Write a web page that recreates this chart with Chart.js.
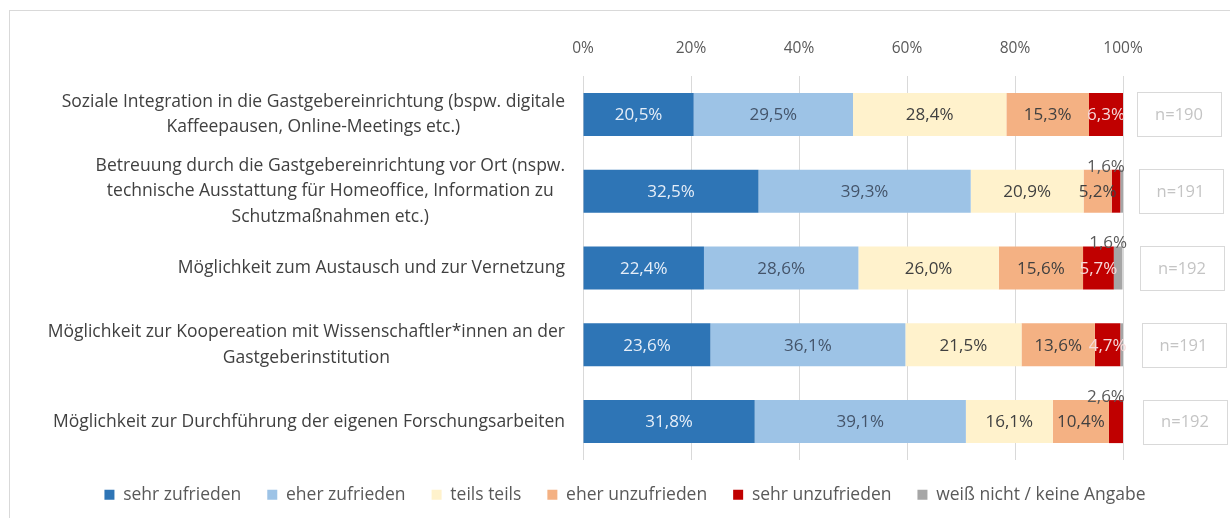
<!DOCTYPE html>
<html>
<head>
<meta charset="utf-8">
<script src="https://cdn.jsdelivr.net/npm/chart.js@4.4.0/dist/chart.umd.min.js"></script>
<style>
  body{margin:0;background:#fff;}
  #wrap{position:absolute;left:9px;top:10px;width:1221px;height:508px;border-top:1px solid #d9d9d9;border-left:1px solid #d9d9d9;}
  canvas{display:block;}
</style>
</head>
<body>
<div id="wrap"><canvas id="myChart" width="1220" height="507"></canvas></div>
<script>
var categories=[
  ["Soziale Integration in die Gastgebereinrichtung (bspw. digitale","Kaffeepausen, Online-Meetings etc.)"],
  ["Betreuung durch die Gastgebereinrichtung vor Ort (nspw.","technische Ausstattung für Homeoffice, Information zu","Schutzmaßnahmen etc.)"],
  ["Möglichkeit zum Austausch und zur Vernetzung"],
  ["Möglichkeit zur Koopereation mit Wissenschaftler*innen an der","Gastgeberinstitution"],
  ["Möglichkeit zur Durchführung der eigenen Forschungsarbeiten"]
];
var seriesNames=["sehr zufrieden","eher zufrieden","teils teils","eher unzufrieden","sehr unzufrieden","weiß nicht / keine Angabe"];
var sehrZufrieden=[20.5,32.5,22.4,23.6,31.8];
var eherZufrieden=[29.5,39.3,28.6,36.1,39.1];
var teilsTeils=[28.4,20.9,26.0,21.5,16.1];
var eherUnzufrieden=[15.3,5.2,15.6,13.6,10.4];
var sehrUnzufrieden=[6.3,1.6,5.7,4.7,2.6];
var weissNicht=[0,0.5,1.6,0.5,0];
var nValues=[190,191,192,191,192];
var tickValues=[0,20,40,60,80,100];

var barColors=["#2E75B6","#9DC3E6","#FFF2CC","#F4B183","#C00000","#A6A6A6"];
var labelColors=["#e6eef8","#44546a","#404040","#404040","#f6dada","#404040"];
var FONT='"Open Sans", sans-serif';

function fmt(v){ return v.toFixed(1).replace('.',',')+'%'; }

var allSeries=[sehrZufrieden,eherZufrieden,teilsTeils,eherUnzufrieden,sehrUnzufrieden,weissNicht];
var datasets=[];
for(let i=0;i<allSeries.length;i++){
  datasets.push({
    label:seriesNames[i],
    data:allSeries[i],
    backgroundColor:barColors[i],
    borderWidth:0,
    barPercentage:0.56,
    categoryPercentage:1
  });
}

// value labels inside the segments (small ones sit on top of the bar)
const valueLabels={
  id:'valueLabels',
  afterDatasetsDraw(chart){
    const ctx=chart.ctx;
    ctx.save();
    ctx.font='17px '+FONT;
    ctx.textAlign='center';
    ctx.textBaseline='middle';
    chart.data.datasets.forEach(function(ds,i){
      chart.getDatasetMeta(i).data.forEach(function(bar,j){
        const v=ds.data[j];
        if(v<1) return;
        const cx=(bar.x+bar.base)/2;
        if(v<3){
          ctx.fillStyle='#595959';
          ctx.fillText(fmt(v),cx-10,bar.y-bar.height/2-3);
        }else{
          ctx.fillStyle=labelColors[i];
          ctx.fillText(fmt(v),cx,bar.y+1);
        }
      });
    });
    ctx.restore();
  }
};

// category labels: block right aligned, lines centred (like Excel)
const catLabels={
  id:'catLabels',
  afterDraw(chart){
    const ctx=chart.ctx, y=chart.scales.y;
    const right=chart.chartArea.left-18;
    const lh=25.5;
    ctx.save();
    ctx.font='17.5px '+FONT;
    ctx.fillStyle='#404040';
    ctx.textAlign='center';
    ctx.textBaseline='middle';
    categories.forEach(function(lines,j){
      let w=0;
      lines.forEach(function(l){ w=Math.max(w,ctx.measureText(l).width); });
      const cx=right-w/2;
      const cy=y.getPixelForValue(j);
      lines.forEach(function(l,k){
        ctx.fillText(l,cx,cy+(k-(lines.length-1)/2)*lh);
      });
    });
    ctx.restore();
  }
};

// n= boxes right of the bars
const nBoxes={
  id:'nBoxes',
  afterDraw(chart){
    const ctx=chart.ctx, y=chart.scales.y;
    ctx.save();
    ctx.font='16.5px '+FONT;
    ctx.textAlign='center';
    ctx.textBaseline='middle';
    nValues.forEach(function(n,j){
      const cy=y.getPixelForValue(j);
      const x0=chart.chartArea.right+14+j*1.5;
      ctx.strokeStyle='#d9d9d9';
      ctx.lineWidth=1;
      ctx.strokeRect(Math.round(x0)+0.5,Math.round(cy-22)+0.5,84,44);
      ctx.fillStyle='#c4c4c4';
      ctx.fillText('n='+n,x0+42,cy+1);
    });
    ctx.restore();
  }
};

new Chart("myChart",{
  type:"bar",
  data:{labels:categories,datasets:datasets},
  options:{
    indexAxis:'y',
    responsive:false,
    animation:false,
    layout:{padding:{left:10,right:0,top:0,bottom:4.5}},
    scales:{
      x:{
        position:'top',
        stacked:true,
        min:0,max:100,
        afterBuildTicks(scale){ scale.ticks=tickValues.map(function(v){return {value:v};}); },
        afterFit(scale){ scale.height=65; },
        grid:{color:'#d9d9d9',drawTicks:false},
        border:{display:false},
        ticks:{
          padding:18,
          color:'#595959',
          font:{family:FONT,size:15.5},
          callback:function(v){return v+'%';}
        }
      },
      y:{
        stacked:true,
        afterFit(scale){ scale.width=563; },
        grid:{display:false},
        border:{display:false},
        ticks:{display:false}
      },
      // empty axis on the right, keeps room for the n= boxes
      yRight:{
        type:'category',
        position:'right',
        afterFit(scale){ scale.width=107; },
        grid:{display:false},
        border:{display:false},
        ticks:{display:false}
      }
    },
    plugins:{
      legend:{
        position:'bottom',
        labels:{
          boxWidth:10,
          boxHeight:10,
          padding:26,
          color:'#595959',
          font:{family:FONT,size:17.5}
        }
      },
      tooltip:{enabled:false}
    }
  },
  plugins:[valueLabels,catLabels,nBoxes]
});
</script>
</body>
</html>
